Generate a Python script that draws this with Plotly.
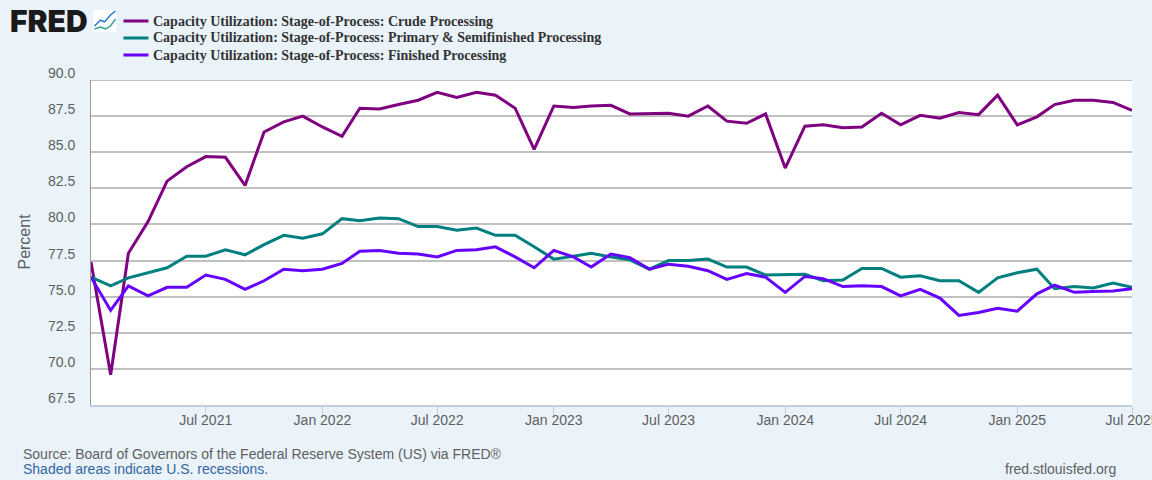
import plotly.graph_objects as go

dates = [f"{y}-{m:02d}-01" for y in range(2021, 2026) for m in range(1, 13)][:55]

crude = [77.4, 69.6, 78.0, 80.2, 83.0, 84.0, 84.7, 84.65, 82.7, 86.4, 87.1, 87.5,
         86.75, 86.1, 88.05, 88.0, 88.3, 88.6, 89.15, 88.8, 89.15, 88.95, 88.05, 85.2,
         88.2, 88.1, 88.2, 88.25, 87.65, 87.65, 87.7, 87.5, 88.2, 87.15, 87.0, 87.65,
         83.9, 86.8, 86.9, 86.7, 86.75, 87.7, 86.9, 87.55, 87.35, 87.75, 87.6, 88.95,
         86.9, 87.45, 88.3, 88.6, 88.6, 88.45, 87.9]
primary = [76.35, 75.75, 76.3, 76.65, 77.0, 77.8, 77.8, 78.25, 77.9, 78.6, 79.25, 79.05,
           79.35, 80.4, 80.25, 80.45, 80.4, 79.85, 79.85, 79.6, 79.75, 79.25, 79.25, 78.45,
           77.6, 77.8, 78.0, 77.75, 77.55, 76.9, 77.5, 77.5, 77.6, 77.05, 77.05, 76.5,
           76.5, 76.55, 76.1, 76.15, 76.95, 76.95, 76.35, 76.45, 76.1, 76.1, 75.3, 76.3,
           76.65, 76.9, 75.55, 75.7, 75.6, 75.95, 75.65]
finished = [76.35, 74.05, 75.75, 75.05, 75.65, 75.65, 76.5, 76.2, 75.5, 76.1, 76.9, 76.8,
            76.9, 77.3, 78.15, 78.2, 78.0, 77.95, 77.75, 78.2, 78.25, 78.45, 77.75, 77.0,
            78.2, 77.75, 77.05, 77.95, 77.7, 76.9, 77.25, 77.1, 76.8, 76.2, 76.6, 76.35,
            75.3, 76.4, 76.25, 75.7, 75.75, 75.7, 75.05, 75.5, 74.9, 73.7, 73.9, 74.2,
            74.0, 75.2, 75.8, 75.3, 75.35, 75.4, 75.55]

names = ["Capacity Utilization: Stage-of-Process: Crude Processing",
         "Capacity Utilization: Stage-of-Process: Primary & Semifinished Processing",
         "Capacity Utilization: Stage-of-Process: Finished Processing"]
colors = ["#7F007F", "#007F7F", "#6600FF"]
tick_dates = ["2021-07-01", "2022-01-01", "2022-07-01", "2023-01-01", "2023-07-01",
              "2024-01-01", "2024-07-01", "2025-01-01", "2025-07-01"]
tick_labels = ["Jul 2021", "Jan 2022", "Jul 2022", "Jan 2023", "Jul 2023",
               "Jan 2024", "Jul 2024", "Jan 2025", "Jul 2025"]
y_ticks = [67.5, 70, 72.5, 75, 77.5, 80, 82.5, 85, 87.5, 90]

W, H = 1152, 480
L, R, T, B = 90.5, 1132, 80, 405

SANS = "Liberation Sans, Arial"
GREY = "#5F5F5F"


def px_x(x):
    return (x - L) / (R - L)


def px_y(y):
    return 1 - (y - T) / (B - T)


def text_at(x, y, text, color=GREY, size=14, anchor="left", family=SANS, **kw):
    return dict(x=px_x(x), y=px_y(y), xref="paper", yref="paper", xanchor=anchor, yanchor="middle",
                text=text, showarrow=False, font=dict(family=family, size=size, color=color), **kw)


fig = go.Figure()
for name, vals, col in zip(names, [crude, primary, finished], colors):
    fig.add_trace(go.Scatter(x=dates, y=vals, name=name, mode="lines",
                             line=dict(color=col, width=3), showlegend=False))

anns = [dict(x=0, xref="paper", xanchor="right", xshift=-14, y=v, yref="y", yanchor="bottom", yshift=-3,
             text=f"{v:.1f}", showarrow=False, font=dict(family=SANS, size=14, color=GREY))
        for v in y_ticks]
anns += [
    text_at(23, 242, "Percent", size=16, textangle=-90, anchor="center"),
    text_at(20, 454, "Source: Board of Governors of the Federal Reserve System (US) via FRED®", size=14),
    text_at(20, 469, "Shaded areas indicate U.S. recessions.", size=14, color="#3366A0"),
    text_at(1118, 469, "fred.stlouisfed.org", size=14, anchor="right"),
    dict(x=px_x(7), y=px_y(21), xref="paper", yref="paper", xanchor="left", yanchor="middle",
         text="FRED", showarrow=False,
         font=dict(family="Inter", size=30, color="#1A1A1A", weight=900)),
]

shapes = [
    dict(type="line", xref="paper", yref="y", x0=0, x1=1, y0=90, y1=90,
         line=dict(color="#C0C0C0", width=2), layer="below"),
    dict(type="rect", xref="paper", yref="paper", x0=px_x(93), x1=px_x(116), y0=px_y(32), y1=px_y(10),
         fillcolor="#FFFFFF", line=dict(width=0), layer="above"),
    dict(type="path", xref="paper", yref="paper", layer="above", line=dict(color="#1E6FD9", width=1.4),
         path="M %f %f L %f %f L %f %f L %f %f L %f %f" % (px_x(94), px_y(26), px_x(100), px_y(20), px_x(104), px_y(22), px_x(110), px_y(15), px_x(115), px_y(11))),
    dict(type="path", xref="paper", yref="paper", layer="above", line=dict(color="#2E9E8F", width=1.4),
         path="M %f %f L %f %f L %f %f L %f %f L %f %f" % (px_x(94), px_y(29), px_x(100), px_y(27), px_x(105), px_y(29), px_x(110), px_y(26), px_x(115), px_y(19))),
]

for i, (name, col) in enumerate(zip(names, colors)):
    row_y = 21 + 17 * i
    shapes.append(dict(type="line", xref="paper", yref="paper", x0=px_x(123), x1=px_x(148),
                       y0=px_y(row_y), y1=px_y(row_y), line=dict(color=col, width=3), layer="above"))
    anns.append(dict(x=px_x(151), y=px_y(row_y), xref="paper", yref="paper", xanchor="left", yanchor="middle",
                     text=f"<b>{name.replace('&', '&amp;')}</b>", showarrow=False,
                     font=dict(family="Liberation Serif, Times New Roman", size=14, color="#333333")))

fig.update_layout(
    width=W, height=H,
    margin=dict(l=L, r=W - R, t=T, b=H - B, pad=0, autoexpand=False),
    paper_bgcolor="#EAF2FA", plot_bgcolor="#FFFFFF",
    showlegend=False,
    annotations=anns, shapes=shapes,
    xaxis=dict(type="date", range=["2021-01-01", "2025-07-01"], tickvals=tick_dates, ticktext=tick_labels,
               ticks="outside", ticklen=10, tickcolor="#C0D0E0", tickwidth=1, ticklabelstandoff=-9,
               ticklabeloverflow="allow",
               showgrid=False, showline=True, linecolor="#C0D0E0", linewidth=2, zeroline=False,
               tickfont=dict(family=SANS, size=14, color=GREY)),
    yaxis=dict(range=[67.5, 90], tickvals=y_ticks, showticklabels=False, ticks="",
               showgrid=True, gridcolor="#C0C0C0", gridwidth=2, zeroline=False,
               showline=True, linecolor="#999999", linewidth=1),
)

fig.write_html("out.html", config={"displayModeBar": False},
               post_script="document.body.style.margin='0';document.body.style.overflow='hidden';")
